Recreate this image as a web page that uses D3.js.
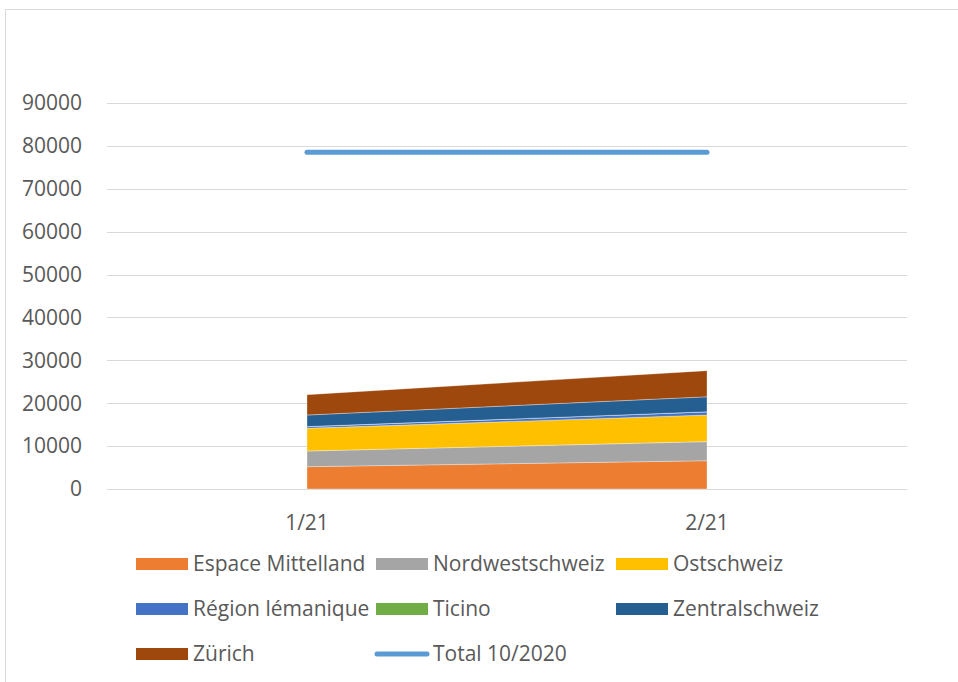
<!DOCTYPE html>
<html>
<head>
<meta charset="utf-8">
<script src="https://cdn.jsdelivr.net/npm/d3@7"></script>
<style>
  body { margin: 0; background: #fff; }
  text { font-family: "Open Sans", "Liberation Sans", sans-serif; fill: #595959; }
</style>
</head>
<body>
<div id="chart"></div>
<script>
let width = 958, height = 682;

let months = ["1/21", "2/21"];
let regions = ["Espace Mittelland", "Nordwestschweiz", "Ostschweiz", "Région lémanique", "Ticino", "Zentralschweiz", "Zürich"];
let colors = ["#ED7D31", "#A5A5A5", "#FFC000", "#4472C4", "#70AD47", "#255E91", "#9E480E"];
let espace = [5200, 6600];
let nordwest = [3650, 4450];
let ost = [5300, 6200];
let lemanique = [400, 750];
let ticino = [0, 0];
let zentral = [2700, 3500];
let zuerich = [4750, 6100];
let total2020 = [78500, 78500];
let yTicks = [0, 10000, 20000, 30000, 40000, 50000, 60000, 70000, 80000, 90000];

let seriesVals = [espace, nordwest, ost, lemanique, ticino, zentral, zuerich];
let rows = months.map(function(m, i){
  let r = {month: m};
  regions.forEach(function(name, k){ r[name] = seriesVals[k][i]; });
  return r;
});

let svg = d3.select("#chart").append("svg")
  .attr("width", width)
  .attr("height", height);

// frame (only left and top edges visible)
svg.append("path")
  .attr("d", "M5.5,682 V9.5 H958")
  .attr("fill", "none")
  .attr("stroke", "#d9d9d9")
  .attr("stroke-width", 1);

let x = d3.scaleBand().domain(months).range([107, 907]);
let y = d3.scaleLinear().domain([0, 90000]).range([489, 103]);
let xc = function(m){ return x(m) + x.bandwidth() / 2; };

// gridlines
svg.selectAll("line.grid").data(yTicks)
  .enter()
    .append("line")
    .attr("x1", 107)
    .attr("x2", 907)
    .attr("y1", function(d){ return Math.round(y(d)) + 0.5; })
    .attr("y2", function(d){ return Math.round(y(d)) + 0.5; })
    .attr("stroke", "#d9d9d9")
    .attr("stroke-width", 1);

svg.selectAll("text.ytick").data(yTicks)
  .enter()
    .append("text")
    .attr("x", 82)
    .attr("y", function(d){ return y(d); })
    .attr("dy", "0.35em")
    .attr("text-anchor", "end")
    .attr("font-size", 21)
    .text(function(d){ return d; });

// stacked areas
let stack = d3.stack().keys(regions);
let layers = stack(rows);
let area = d3.area()
  .x(function(d){ return xc(d.data.month); })
  .y0(function(d){ return y(d[0]); })
  .y1(function(d){ return y(d[1]); });

svg.selectAll("path.layer").data(layers)
  .enter()
    .append("path")
    .attr("d", area)
    .attr("fill", function(d, i){ return colors[i]; })
    .attr("stroke", "#ffffff")
    .attr("stroke-opacity", 0.4)
    .attr("stroke-width", 0.8);

// total line
let line = d3.line()
  .x(function(d, i){ return xc(months[i]); })
  .y(function(d){ return y(d); });
svg.append("path")
  .attr("d", line(total2020))
  .attr("fill", "none")
  .attr("stroke", "#5B9BD5")
  .attr("stroke-width", 5)
  .attr("stroke-linecap", "round");

// x labels
svg.selectAll("text.xtick").data(months)
  .enter()
    .append("text")
    .attr("x", xc)
    .attr("y", 523)
    .attr("dy", "0.35em")
    .attr("text-anchor", "middle")
    .attr("font-size", 21)
    .text(function(d){ return d; });

// legend
let legendItems = regions.map(function(r, i){ return {name: r, color: colors[i], line: false}; });
legendItems.push({name: "Total 10/2020", color: "#5B9BD5", line: true});
let colX = [136, 376, 616];
let rowY = [564, 609, 654];

let leg = svg.selectAll("g.leg").data(legendItems)
  .enter()
    .append("g")
    .attr("transform", function(d, i){ return "translate(" + colX[i % 3] + "," + rowY[Math.floor(i / 3)] + ")"; });

leg.filter(function(d){ return !d.line; })
  .append("rect")
  .attr("x", 0).attr("y", -6)
  .attr("width", 52).attr("height", 12)
  .attr("fill", function(d){ return d.color; });

leg.filter(function(d){ return d.line; })
  .append("line")
  .attr("x1", 1).attr("x2", 51)
  .attr("y1", 0).attr("y2", 0)
  .attr("stroke", function(d){ return d.color; })
  .attr("stroke-width", 5)
  .attr("stroke-linecap", "round");

leg.append("text")
  .attr("x", 57)
  .attr("y", 0)
  .attr("dy", "0.35em")
  .attr("font-size", 21)
  .text(function(d){ return d.name; });
</script>
</body>
</html>
